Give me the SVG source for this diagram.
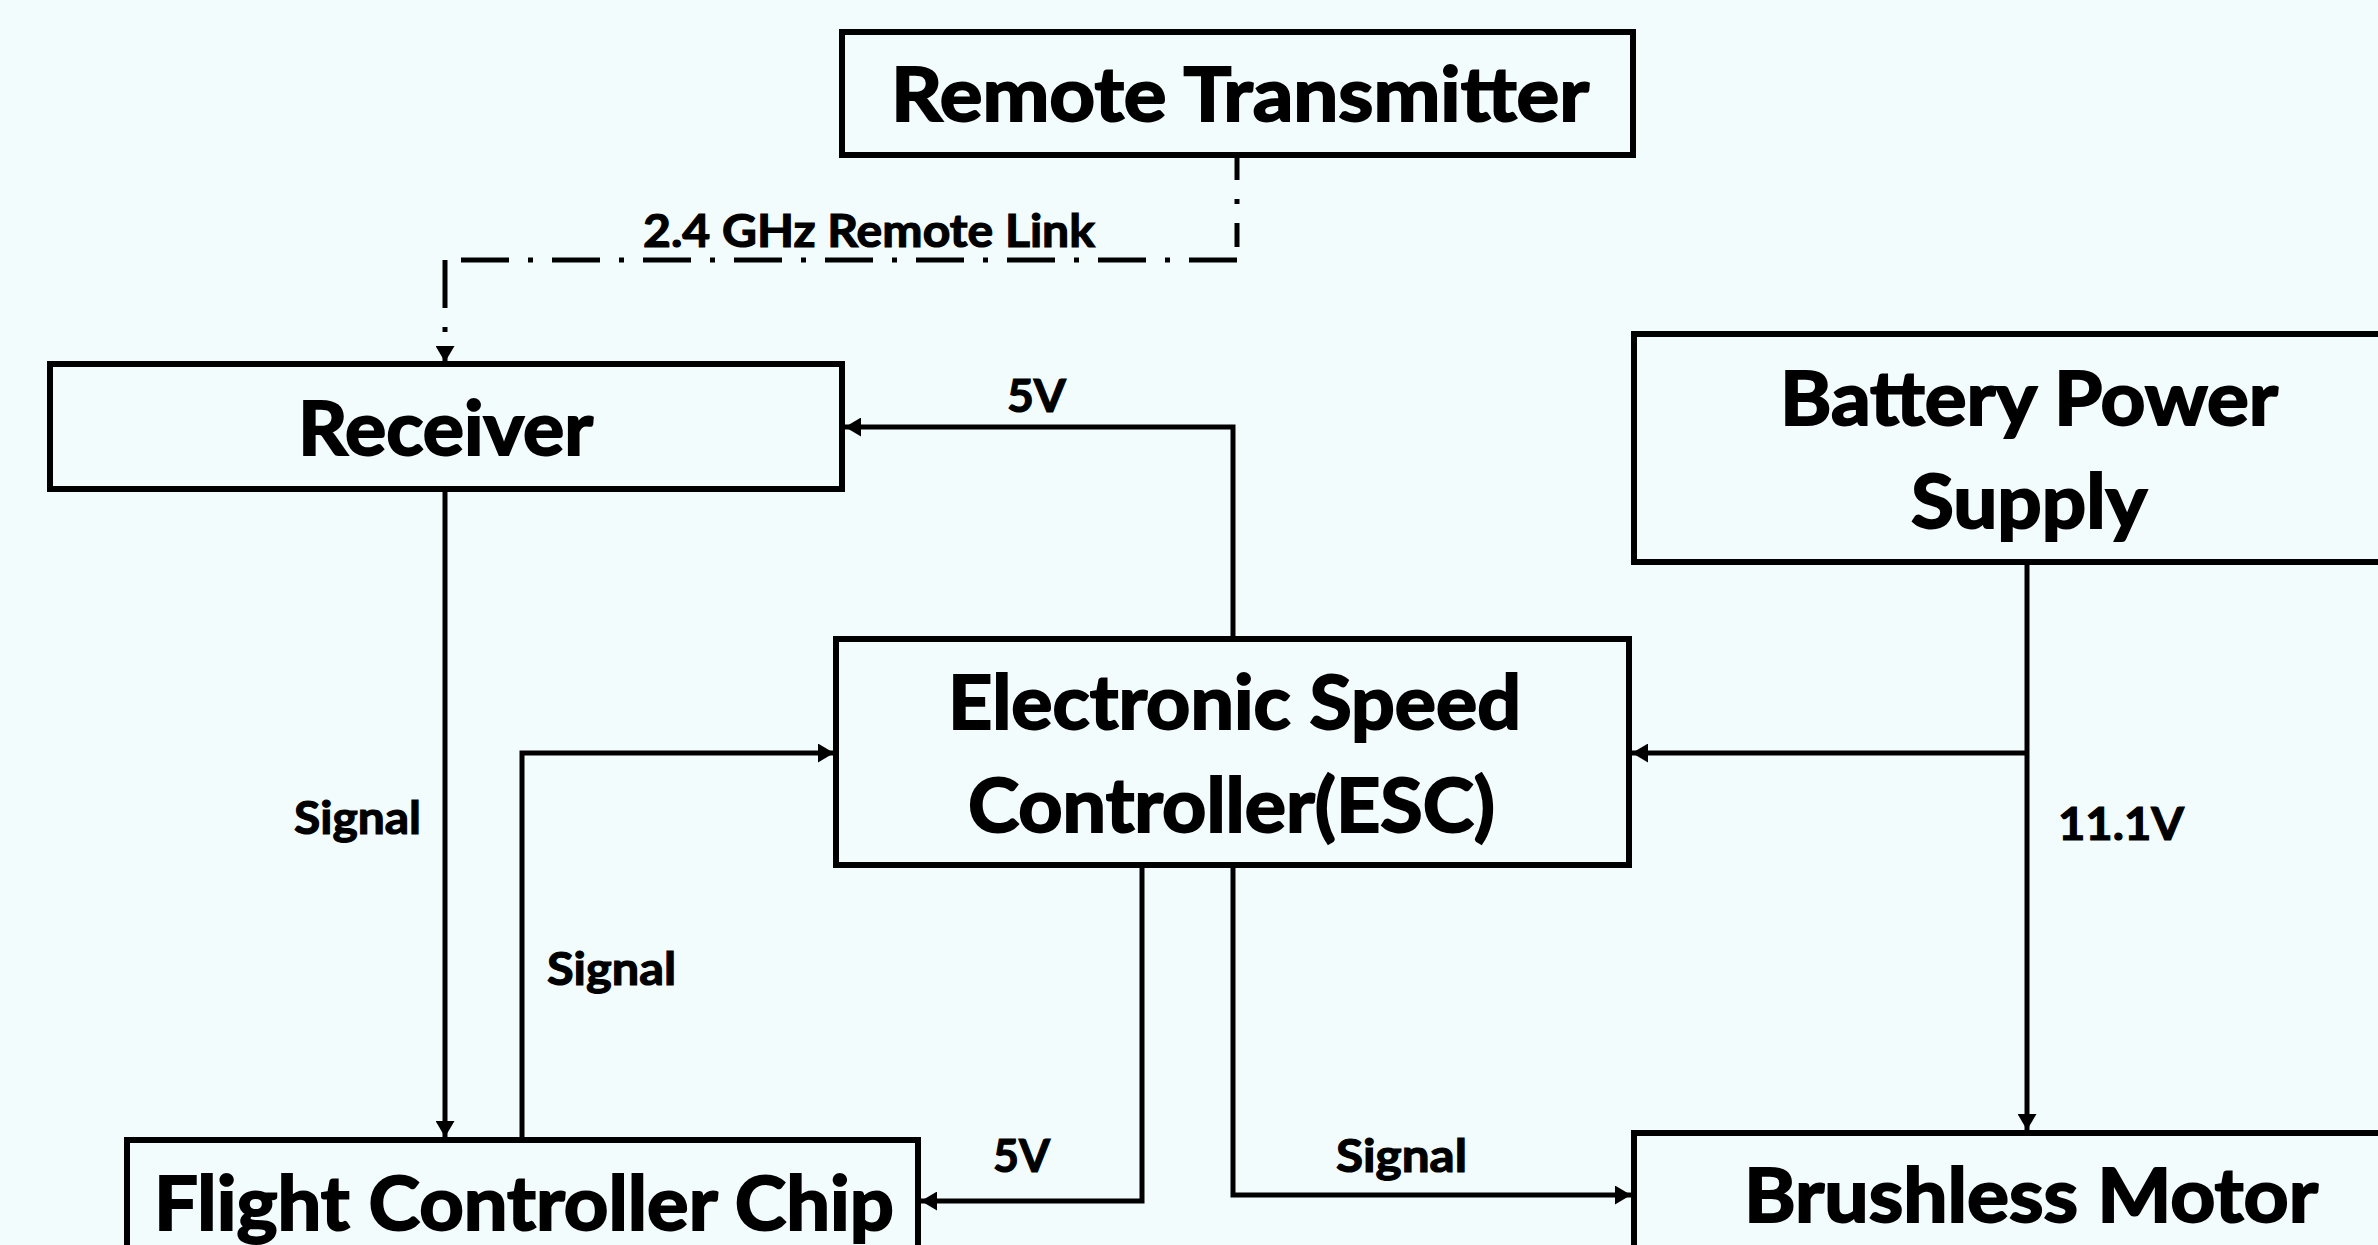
<svg xmlns="http://www.w3.org/2000/svg" width="2378" height="1245" viewBox="0 0 2378 1245">
<style>
.box{fill:none;stroke:#000;stroke-width:6}
.t{font-family:Lato,"Open Sans","Liberation Sans",sans-serif;font-weight:700;fill:#000;stroke:#000;text-anchor:middle}
.big{font-size:74px;stroke-width:2}
.small{font-size:46px;stroke-width:1.2}
.c{fill:none;stroke:#000;stroke-width:5}
.dd{fill:none;stroke:#000;stroke-width:5;stroke-dasharray:48 19 5 19}
</style>
<defs>
<marker id="ah" markerUnits="userSpaceOnUse" markerWidth="17" markerHeight="19" refX="16" refY="9.5" orient="auto" viewBox="0 0 17 19">
<path d="M0,0 L16,9.5 L0,19 z" fill="#000"/>
</marker>
</defs>
<rect x="0" y="0" width="2378" height="1245" fill="#f2fcfd"/>

<g id="connectors">
<path class="c" style="stroke-dasharray:24 19 5 19" d="M1237,156 V260"/>
<path class="dd" d="M1237,260 H445"/>
<path class="dd" d="M445,260 V362" marker-end="url(#ah)"/>
<path class="c" d="M1233,639 V427 H845" marker-end="url(#ah)"/>
<path class="c" d="M445,489 V1137" marker-end="url(#ah)"/>
<path class="c" d="M522,1140 V753 H834" marker-end="url(#ah)"/>
<path class="c" d="M2027,753 H1632" marker-end="url(#ah)"/>
<path class="c" d="M2027,562 V1130" marker-end="url(#ah)"/>
<path class="c" d="M1142,865 V1201 H921" marker-end="url(#ah)"/>
<path class="c" d="M1233,865 V1195 H1631" marker-end="url(#ah)"/>
<text class="t small" x="869" y="247" textLength="452" lengthAdjust="spacingAndGlyphs">2.4 GHz Remote Link</text>
<text class="t small" x="1036.5" y="412" textLength="59" lengthAdjust="spacingAndGlyphs">5V</text>
<text class="t small" x="357.5" y="834" textLength="127" lengthAdjust="spacingAndGlyphs">Signal</text>
<text class="t small" x="611.5" y="985" textLength="129" lengthAdjust="spacingAndGlyphs">Signal</text>
<text class="t small" x="1021.5" y="1172" textLength="57" lengthAdjust="spacingAndGlyphs">5V</text>
<text class="t small" x="1401.5" y="1172" textLength="131" lengthAdjust="spacingAndGlyphs">Signal</text>
<text class="t small" x="2121" y="840" textLength="126" lengthAdjust="spacingAndGlyphs">11.1V</text>
</g>

<g id="remote-transmitter">
<rect class="box" x="842" y="32" width="791" height="123"/>
<text class="t big" x="1240" y="121" textLength="698" lengthAdjust="spacingAndGlyphs">Remote Transmitter</text>
</g>
<g id="receiver">
<rect class="box" x="50" y="364" width="792" height="125"/>
<text class="t big" x="445.5" y="455" textLength="295" lengthAdjust="spacingAndGlyphs">Receiver</text>
</g>
<g id="battery">
<rect class="box" x="1634" y="334" width="790" height="228"/>
<text class="t big" x="2029" y="425" textLength="498" lengthAdjust="spacingAndGlyphs">Battery Power</text>
<text class="t big" x="2029" y="528" textLength="236" lengthAdjust="spacingAndGlyphs">Supply</text>
</g>
<g id="esc">
<rect class="box" x="836" y="639" width="793" height="226"/>
<text class="t big" x="1234.5" y="729" textLength="573" lengthAdjust="spacingAndGlyphs">Electronic Speed</text>
<text class="t big" x="1231.5" y="832" textLength="527" lengthAdjust="spacingAndGlyphs">Controller(ESC)</text>
</g>
<g id="flight-controller">
<rect class="box" x="127" y="1140" width="791" height="200"/>
<text class="t big" x="524" y="1230" textLength="740" lengthAdjust="spacingAndGlyphs">Flight Controller Chip</text>
</g>
<g id="brushless-motor">
<rect class="box" x="1634" y="1133" width="790" height="200"/>
<text class="t big" x="2031" y="1222" textLength="574" lengthAdjust="spacingAndGlyphs">Brushless Motor</text>
</g>
</svg>
